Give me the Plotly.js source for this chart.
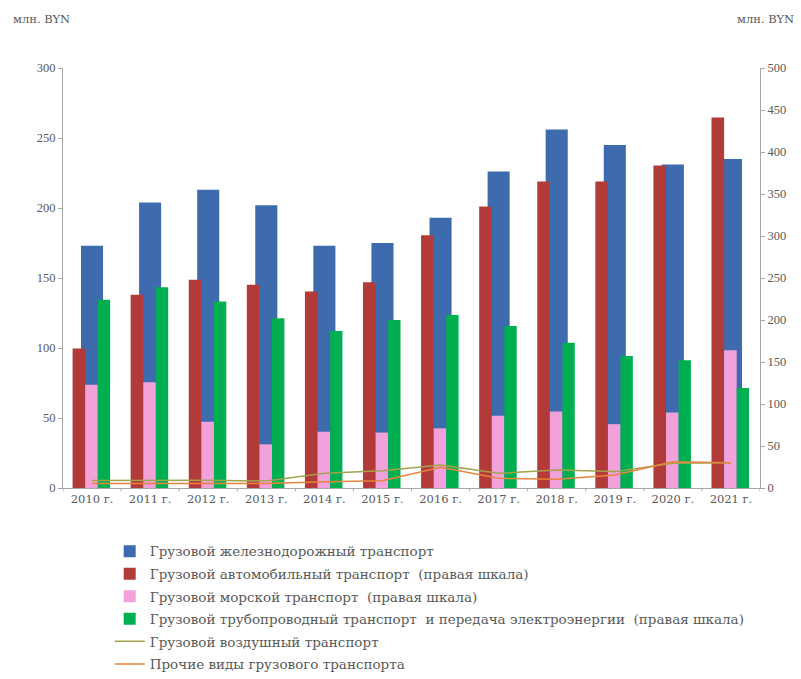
<!DOCTYPE html>
<html>
<head>
<meta charset="utf-8">
<script src="https://cdn.plot.ly/plotly-3.0.1.min.js"></script>
<style>
html,body{margin:0;padding:0;background:#fff;}
#chart{width:801px;height:679px;}
</style>
</head>
<body>
<div id="chart"></div>
<script>
// Data (млн. BYN)
const years = ["2010 г.","2011 г.","2012 г.","2013 г.","2014 г.","2015 г.","2016 г.","2017 г.","2018 г.","2019 г.","2020 г.","2021 г."];
const rail  = [173, 204, 213, 202, 173, 175, 193, 226, 256, 245, 231, 235];          // left axis
const auto  = [166, 230, 248, 242, 234, 245, 301, 335, 365, 365, 384, 441];          // right axis
const sea   = [123, 126, 79, 52, 67, 66, 71, 86, 91, 76, 90, 164];                   // right axis
const pipe  = [224, 239, 222, 202, 187, 200, 206, 193, 173, 157, 152, 119];          // right axis
const air   = [5.4, 5.5, 5.5, 5, 10.5, 12.4, 16.4, 10.5, 12.9, 11.7, 17.6, 18];      // left axis
const other = [3.3, 3.3, 3.5, 3.3, 4.5, 5.2, 14.8, 6.9, 6.2, 9.3, 18.8, 18];         // left axis

const names = [
  "Грузовой железнодорожный транспорт",
  "Грузовой автомобильный транспорт  (правая шкала)",
  "Грузовой морской транспорт  (правая шкала)",
  "Грузовой трубопроводный транспорт  и передача электроэнергии  (правая шкала)",
  "Грузовой воздушный транспорт",
  "Прочие виды грузового транспорта"
];
const colors = ["#3D6BAE", "#B23B3A", "#F2A2DA", "#00B050", "#A3A34E", "#E8843C"];
const serif = "Liberation Serif, serif";
const wide = "DejaVu Serif, Liberation Serif, serif";

const idx = years.map((_, i) => i);
const traces = [
  {type:"bar", name:names[0], x:idx, y:rail, yaxis:"y", width:0.38, offset:-0.19,
   marker:{color:colors[0]}, legendgroup:"g1"},
  {type:"bar", name:names[1], x:idx, y:auto, yaxis:"y2", width:0.217, offset:-0.335,
   marker:{color:colors[1]}, legendgroup:"g2"},
  {type:"bar", name:names[2], x:idx, y:sea, yaxis:"y2", width:0.217, offset:-0.118,
   marker:{color:colors[2]}, legendgroup:"g3"},
  {type:"bar", name:names[3], x:idx, y:pipe, yaxis:"y2", width:0.212, offset:0.099,
   marker:{color:colors[3]}, legendgroup:"g4"},
  {type:"scatter", mode:"lines", name:names[4], x:idx, y:air, yaxis:"y3",
   line:{color:colors[4], width:1.5}, legendgroup:"g5"},
  {type:"scatter", mode:"lines", name:names[5], x:idx, y:other, yaxis:"y3",
   line:{color:colors[5], width:1.5}, legendgroup:"g6"}
];

const yTickFont = {family:serif, size:12.5, color:"#595959"};
const xTickFont = {family:wide, size:11.5, color:"#595959"};
const layout = {
  width:801, height:679,
  font:{family:serif, color:"#595959"},
  margin:{l:63, r:41, t:68, b:191, autoexpand:false},
  paper_bgcolor:"#ffffff", plot_bgcolor:"#ffffff",
  barmode:"overlay",
  showlegend:true,
  xaxis:{
    type:"linear", range:[-0.5, 11.5],
    tickmode:"array", tickvals:idx, ticktext:years,
    showgrid:false, zeroline:false,
    showline:true, linecolor:"#A6A6A6", linewidth:1,
    ticks:"", tickfont:xTickFont
  },
  yaxis:{
    range:[0,300], tickvals:[0,50,100,150,200,250,300],
    showgrid:false, zeroline:false,
    showline:true, linecolor:"#A6A6A6", linewidth:1,
    ticks:"outside", ticklen:4, tickcolor:"#A6A6A6",
    tickfont:yTickFont
  },
  yaxis2:{
    range:[0,500], tickvals:[0,50,100,150,200,250,300,350,400,450,500],
    overlaying:"y", side:"right",
    showgrid:false, zeroline:false,
    showline:true, linecolor:"#A6A6A6", linewidth:1,
    ticks:"outside", ticklen:4, tickcolor:"#A6A6A6",
    tickfont:yTickFont
  },
  yaxis3:{
    range:[0,300], overlaying:"y", visible:false
  },
  legend:{
    x:0.067, xanchor:"left", y:-0.114, yanchor:"top",
    font:{family:wide, size:13.5, color:"#595959"},
    traceorder:"grouped", tracegroupgap:2,
    bgcolor:"rgba(0,0,0,0)", itemwidth:30
  },
  annotations:[
    {text:"млн. BYN", xref:"paper", yref:"paper", x:-0.075, y:1.117, xanchor:"left", yanchor:"middle",
     showarrow:false, font:{family:wide, size:11.5, color:"#595959"}},
    {text:"млн. BYN", xref:"paper", yref:"paper", x:1.052, y:1.117, xanchor:"right", yanchor:"middle",
     showarrow:false, font:{family:wide, size:11.5, color:"#595959"}}
  ],
  shapes: idx.concat([12]).map(i => ({
    type:"line", xref:"x", yref:"paper", x0:i-0.5, x1:i-0.5, y0:0, y1:-0.008,
    line:{color:"#A6A6A6", width:1}
  }))
};

Plotly.newPlot("chart", traces, layout, {displayModeBar:false, staticPlot:true});
</script>
</body>
</html>
